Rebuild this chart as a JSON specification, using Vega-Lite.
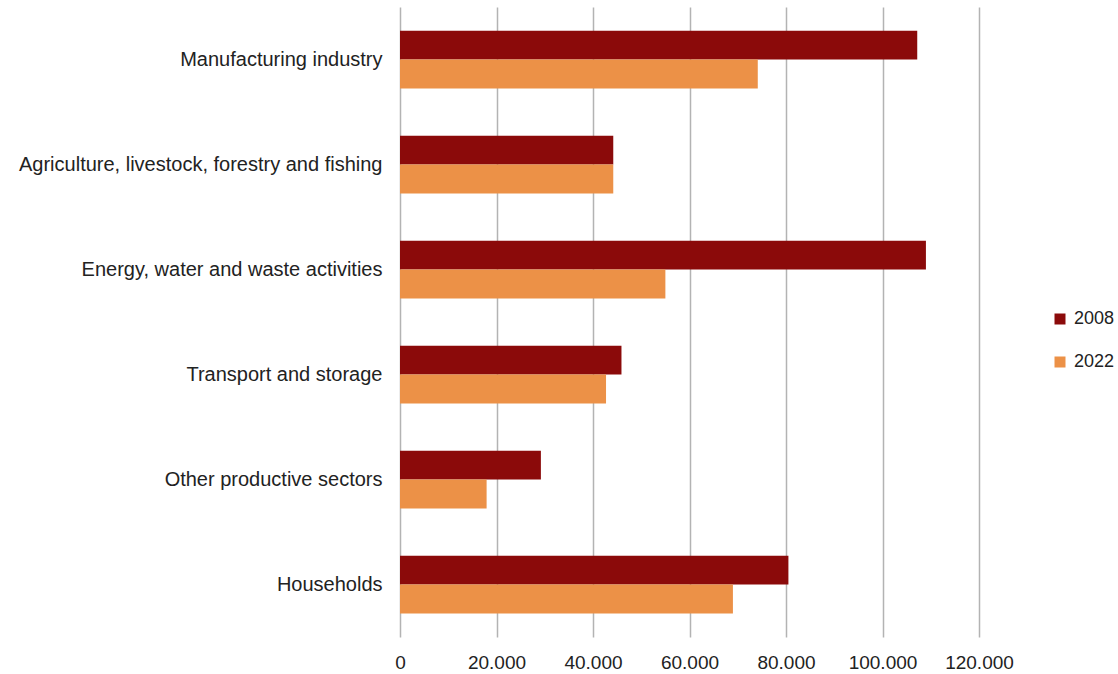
{
  "$schema": "https://vega.github.io/schema/vega-lite/v6.json",
  "width": 579,
  "height": 630,
  "autosize": {"type": "none"},
  "padding": {"left": 400, "top": 7, "right": 139, "bottom": 37},
  "background": "white",
  "data": {
    "values": [
      {"sector": "Manufacturing industry", "year": "2008", "value": 107200},
      {"sector": "Manufacturing industry", "year": "2022", "value": 74150},
      {"sector": "Agriculture, livestock, forestry and fishing", "year": "2008", "value": 44200},
      {"sector": "Agriculture, livestock, forestry and fishing", "year": "2022", "value": 44200},
      {"sector": "Energy, water and waste activities", "year": "2008", "value": 109000},
      {"sector": "Energy, water and waste activities", "year": "2022", "value": 55000},
      {"sector": "Transport and storage", "year": "2008", "value": 45900},
      {"sector": "Transport and storage", "year": "2022", "value": 42700},
      {"sector": "Other productive sectors", "year": "2008", "value": 29200},
      {"sector": "Other productive sectors", "year": "2022", "value": 17950},
      {"sector": "Households", "year": "2008", "value": 80500},
      {"sector": "Households", "year": "2022", "value": 69000}
    ]
  },
  "mark": {"type": "bar"},
  "encoding": {
    "y": {
      "field": "sector",
      "type": "nominal",
      "sort": null,
      "scale": {"paddingInner": 0.45, "paddingOuter": 0.225},
      "axis": {
        "title": null,
        "domain": false,
        "ticks": false,
        "labelPadding": 18,
        "labelFont": "Liberation Sans",
        "labelFontSize": 20,
        "labelColor": "#222222",
        "labelLimit": 400
      }
    },
    "yOffset": {"field": "year", "type": "nominal", "sort": ["2008", "2022"]},
    "x": {
      "field": "value",
      "type": "quantitative",
      "scale": {"domain": [0, 120000], "nice": false},
      "axis": {
        "title": null,
        "values": [0, 20000, 40000, 60000, 80000, 100000, 120000],
        "labelExpr": "replace(format(datum.value, ','), ',', '.')",
        "domain": false,
        "ticks": false,
        "grid": true,
        "gridColor": "#b3b3b3",
        "gridWidth": 1.5,
        "labelPadding": 16,
        "labelOverlap": false,
        "labelFlush": false,
        "labelFont": "Liberation Sans",
        "labelFontSize": 19,
        "labelColor": "#222222"
      }
    },
    "color": {
      "field": "year",
      "type": "nominal",
      "scale": {"domain": ["2008", "2022"], "range": ["#8B0A0A", "#EC9147"]},
      "legend": {
        "title": null,
        "orient": "none",
        "legendX": 651,
        "legendY": 303,
        "symbolType": "square",
        "symbolSize": 121,
        "symbolStrokeWidth": 0,
        "rowPadding": 25,
        "labelFont": "Liberation Sans",
        "labelFontSize": 18,
        "labelColor": "#222222",
        "labelOffset": 5
      }
    }
  },
  "config": {"view": {"stroke": null}}
}
